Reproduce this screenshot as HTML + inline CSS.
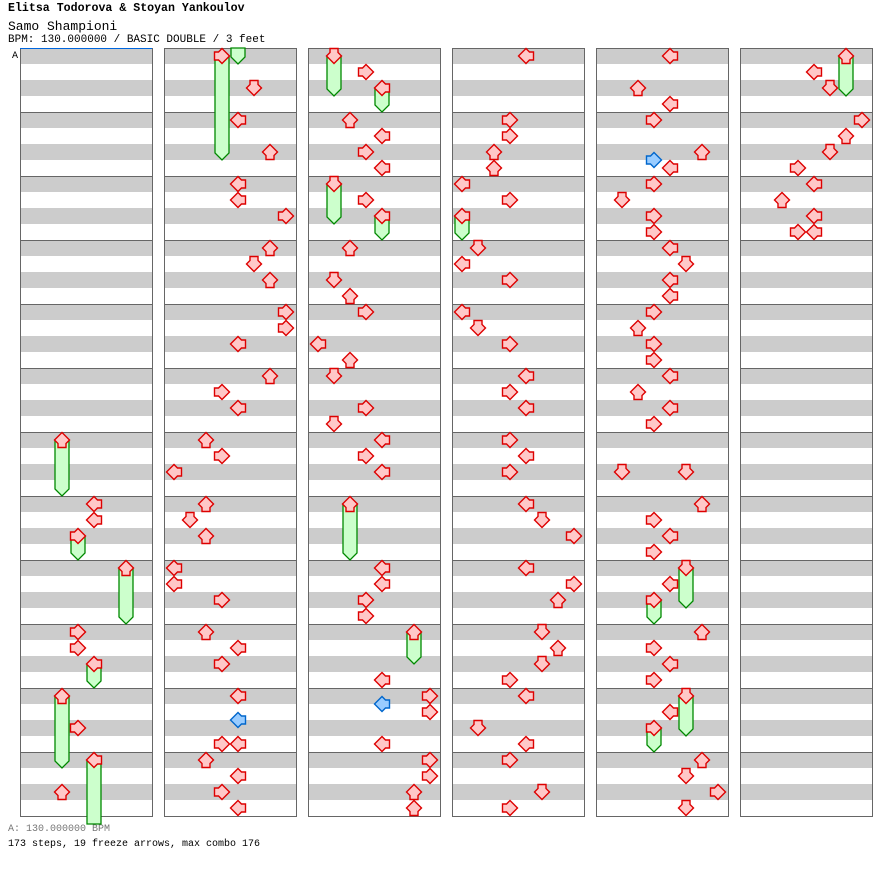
<!DOCTYPE html>
<html><head><meta charset="utf-8">
<style>
html,body{margin:0;padding:0;background:#fff;}
body{width:896px;height:876px;position:relative;overflow:hidden;font-family:"Liberation Mono",monospace;}
.t{position:absolute;left:8px;white-space:pre;color:#000;}
</style></head>
<body>
<div class="t" style="top:2px;font-size:11.6px;font-weight:bold;">Elitsa Todorova &amp; Stoyan Yankoulov</div>
<div class="t" style="top:19px;font-size:13px;">Samo Shampioni</div>
<div class="t" style="top:34px;font-size:11px;">BPM: 130.000000 / BASIC DOUBLE / 3 feet</div>
<div class="t" style="top:824px;font-size:10px;color:#777;">A: 130.000000 BPM</div>
<div class="t" style="top:839px;font-size:10px;">173 steps, 19 freeze arrows, max combo 176</div>
<svg id="chart" width="896" height="876" style="position:absolute;left:0;top:0" xmlns="http://www.w3.org/2000/svg">
<text x="12" y="58" font-family="Liberation Mono, monospace" font-size="10">A</text>
</svg>
<script>
// beat is global: column*48 + beat within column (4 beats per measure, 12 measures per column)
var noteBeats = [
24,28,29,30,32,36,37,38,40,42,44,46,
48,50,52,54,56,57,58,60,61,62,64,65,66,68,69,70,72,73,74,76,77,78,80,81,82,84,85,86,88,89.5,91,91,92,93,94,95,
96,97,98,100,101,102,103,104,105,106,108,110,111,112,114,115,116,118,119,120,121,122,124,128,129,130,131,132,135,136,136.5,137,139,140,141,142,143,
144,148,149,150,151,152,153,154,156,157,158,160,161,162,164,165,166,168,169,170,172,173,174,176,177,178,180,181,182,183,184,186,187,188,190,191,
192,194,195,196,198,198.5,199,200,201,202,203,204,205,206,207,208,209,210,211,212,213,214,215,218,218,220,221,222,223,224,225,226,228,229,230,231,232,233,234,236,237,238,239,
240,241,242,244,245,246,247,248,249,250,251,251
];
var noteLanes = [
2,4,4,3,6,3,3,4,2,3,4,2,
3,5,4,6,4,4,7,6,5,6,7,7,4,6,3,4,2,3,0,2,1,2,0,0,3,2,4,3,4,4,3,4,2,4,3,4,
1,3,4,2,4,3,4,1,3,4,2,1,2,3,0,2,1,3,1,4,3,4,2,4,4,3,3,6,4,7,4,7,4,7,7,6,6,
4,3,3,2,2,0,3,0,1,0,3,0,1,3,4,3,4,3,4,3,4,5,7,4,7,6,5,6,5,3,4,1,4,3,5,3,
4,2,4,3,6,3,4,3,1,3,3,4,5,4,4,3,2,3,3,4,2,4,3,1,5,6,3,4,3,5,4,3,6,3,4,3,5,4,3,6,5,7,5,
6,4,5,7,6,5,3,4,2,4,3,4
];
var noteFreeze = [
3.5,0,0,1.5,3.5,0,0,1.5,4.5,0,4.5,0,
6.5,0,0,0,0,0,0,0,0,0,0,0,0,0,0,0,0,0,0,0,0,0,0,0,0,0,0,0,0,0,0,0,0,0,0,0,
2.5,0,1.5,0,0,0,0,2.5,0,1.5,0,0,0,0,0,0,0,0,0,0,0,0,3.5,0,0,0,0,2,0,0,0,0,0,0,0,0,0,
0,0,0,0,0,0,0,1.5,0,0,0,0,0,0,0,0,0,0,0,0,0,0,0,0,0,0,0,0,0,0,0,0,0,0,0,0,
0,0,0,0,0,0,0,0,0,0,0,0,0,0,0,0,0,0,0,0,0,0,0,0,0,0,0,0,0,2.5,0,1.5,0,0,0,0,2.5,0,1.5,0,0,0,0,
2.5,0,0,0,0,0,0,0,0,0,0,0
];
var NS="http://www.w3.org/2000/svg";
var svg=document.getElementById('chart');
var COLS=6, MEAS=12, BPC=48, TOP=48, PX=16, COLW=132, GAP=144, LEFT0=20;
function colX(c){return LEFT0+c*GAP;}
function laneX(c,l){return colX(c)+10+l*16;}
function beatY(b){return TOP+8+(b%BPC)*PX;}
function mk(tag,attrs){var e=document.createElementNS(NS,tag);for(var k in attrs)e.setAttribute(k,attrs[k]);svg.appendChild(e);return e;}
for(var c=0;c<COLS;c++){
  var x0=colX(c);
  for(var m=0;m<MEAS;m++){
    for(var s=0;s<4;s+=2){
      var r=mk('rect',{x:x0,y:TOP+m*64+s*16,width:COLW,height:16,fill:'#cccccc'});
      
      
    }
    if(m>0){var ln=mk('line',{x1:x0,x2:x0+COLW,y1:TOP+m*64+0.5,y2:TOP+m*64+0.5,stroke:'#666',"stroke-width":1});
      
      }
  }
  var b=mk('rect',{x:x0+0.5,y:TOP+0.5,width:COLW,height:MEAS*64,fill:'none',stroke:'#666',"stroke-width":1});
  
  
}
var bl=mk('line',{x1:20,x2:152,y1:48.5,y2:48.5,stroke:'#0066dd',"stroke-width":1});


function freezeSeg(cx,y1,y2,tail){
  var pts;
  if(tail) pts=[[cx-7,y1],[cx+7,y1],[cx+7,y2-7],[cx,y2],[cx-7,y2-7]];
  else pts=[[cx-7,y1],[cx+7,y1],[cx+7,y2],[cx-7,y2]];
  var p=mk('polygon',{points:pts.map(function(q){return q.join(',');}).join(' '),fill:'#ccffcc',stroke:'#008800',"stroke-width":1.3});
  
  
}
for(var i=0;i<noteBeats.length;i++){
  var f=noteFreeze[i]; if(!f)continue;
  var c=Math.floor(noteBeats[i]/BPC), cx=laneX(c,noteLanes[i]);
  var y1=beatY(noteBeats[i]), y2=y1+f*PX;
  var bottom=TOP+MEAS*64;
  if(y2<=bottom+8){freezeSeg(cx,y1,y2,true);}
  else{
    freezeSeg(cx,y1,bottom+8,false);
    var rem=y2-MEAS*64;
    freezeSeg(laneX(c+1,noteLanes[i]),TOP,rem,true);
  }
}
var base=[[-7.5,0],[0,-7.5],[3.5,-4],[7.5,-4],[7.5,4],[3.5,4],[0,7.5]];
var rot={0:0,1:270,2:90,3:180};
for(var i=0;i<noteBeats.length;i++){
  var bt=noteBeats[i], c=Math.floor(bt/BPC), l=noteLanes[i];
  var cx=laneX(c,l), cy=beatY(bt);
  var off=(bt%1)!==0;
  var a=rot[l%4]*Math.PI/180;
  var pts=base.map(function(q){var x=q[0]*Math.cos(a)-q[1]*Math.sin(a),y=q[0]*Math.sin(a)+q[1]*Math.cos(a);return (cx+x).toFixed(2)+','+(cy+y).toFixed(2);}).join(' ');
  var p=mk('polygon',{points:pts,fill:off?'#99ccff':'#ffc8c8',stroke:off?'#0066cc':'#dd0000',"stroke-width":1.4});
  
  
}
</script>
</body></html>
